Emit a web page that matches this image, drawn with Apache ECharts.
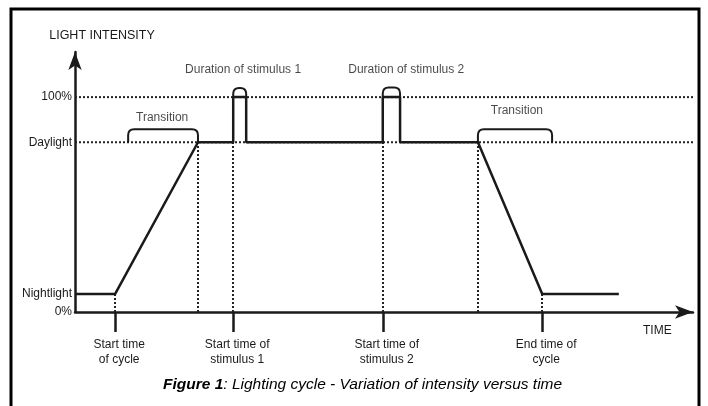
<!DOCTYPE html>
<html>
<head>
<meta charset="utf-8">
<script src="https://cdn.jsdelivr.net/npm/echarts@6/dist/echarts.min.js"></script>
<style>
  html, body { margin: 0; padding: 0; background: #fff; }
  #chartLine { width: 708px; height: 406px; }
</style>
</head>
<body>
<div id="chartLine"></div>
<script>
// light level over the cycle (x = time, arbitrary units, y = % intensity)
var cycleTime = [0, 6.5, 19.9, 25.6, 25.6, 27.7, 27.7, 49.8, 49.8, 52.6, 52.6, 65.2, 75.6, 88.0];
var cycleLevel = [8.4, 8.4, 79, 79, 100, 100, 79, 79, 100, 100, 79, 79, 8.4, 8.4];

// levels on the y axis
var levelValues = [0, 8.4, 79, 100];
var levelNames = ['0%', 'Nightlight', 'Daylight', '100%'];

// marked times on the x axis
var eventTimes = [6.5, 25.6, 49.8, 75.6];
var eventNames = ['Start time\nof cycle', 'Start time of\nstimulus 1', 'Start time of\nstimulus 2', 'End time of\ncycle'];

// dotted drop lines
var dropTimes = [6.5, 19.9, 25.6, 49.8, 65.2, 75.6];
var dropTops = [8.4, 79, 79, 79, 79, 8.4];
// dotted level guides
var guideLevels = [100, 79];
var guideEnd = 100.6;

// brackets: start, end, base level, top level
var bracketStart = [8.6, 25.6, 49.8, 65.2];
var bracketEnd = [19.9, 27.7, 52.6, 77.2];
var bracketBase = [79, 100, 100, 79];
var bracketTop = [85, 104.2, 104.5, 85];

// annotation texts
var noteNames = ['Transition', 'Duration of stimulus 1', 'Duration of stimulus 2', 'Transition'];
var noteTime = [14.1, 27.2, 53.6, 71.5];
var noteLevel = [90.3, 112.6, 112.6, 93.5];

var font = 'Liberation Sans, Arial, sans-serif';
var ink = '#1a1a1a';

var worldMapContainer = document.getElementById('chartLine');
var myChart = echarts.init(worldMapContainer);

var linePoints = cycleTime.map(function (t, i) { return [t, cycleLevel[i]]; });

var dropData = dropTimes.map(function (t, i) {
    return [{ coord: [t, 0] }, { coord: [t, dropTops[i]] }];
});

var bracketData = bracketStart.map(function (s, i) {
    return [s, bracketEnd[i], bracketBase[i], bracketTop[i]];
});

var noteData = noteNames.map(function (n, i) {
    return { name: n, value: [noteTime[i], noteLevel[i]] };
});

var dotted = { color: '#222', width: 2, type: 'dotted' };

var guideSeries = guideLevels.map(function (v) {
    return {
        type: 'line',
        name: 'guide ' + v,
        data: [[0, v], [guideEnd, v]],
        symbol: 'none',
        clip: false,
        silent: true,
        z: 2,
        lineStyle: dotted
    };
});

function renderBracket(params, api) {
    var a = api.coord([api.value(0), api.value(2)]);
    var b = api.coord([api.value(1), api.value(3)]);
    var x1 = a[0], x2 = b[0], yb = a[1], yt = b[1];
    var r = Math.min(6, (x2 - x1) / 2, yb - yt);
    var d = 'M' + x1 + ' ' + yb +
        ' L' + x1 + ' ' + (yt + r) +
        ' Q' + x1 + ' ' + yt + ' ' + (x1 + r) + ' ' + yt +
        ' L' + (x2 - r) + ' ' + yt +
        ' Q' + x2 + ' ' + yt + ' ' + x2 + ' ' + (yt + r) +
        ' L' + x2 + ' ' + yb;
    return {
        type: 'path',
        shape: { pathData: d },
        style: { fill: null, stroke: ink, lineWidth: 2 }
    };
}

var option = {
    animation: false,
    backgroundColor: '#fff',
    title: {
        text: '{b|Figure 1}{n|: Lighting cycle - Variation of intensity versus time}',
        left: 163,
        top: 377,
        padding: 0,
        textStyle: {
            fontWeight: 'normal',
            rich: {
                b: { fontFamily: font, fontSize: 15.5, fontStyle: 'italic', fontWeight: 'bold', color: '#000' },
                n: { fontFamily: font, fontSize: 15.5, fontStyle: 'italic', fontWeight: 'normal', color: '#000' }
            }
        }
    },
    graphic: [{
        type: 'rect',
        shape: { x: 11, y: 9, width: 688, height: 420 },
        style: { fill: null, stroke: '#000', lineWidth: 3 },
        silent: true
    }],
    grid: {
        left: 75,
        right: 15,
        top: 52,
        bottom: 94,
        containLabel: false,
        outerBoundsMode: 'none'
    },
    xAxis: {
        type: 'value',
        min: 0,
        max: 100,
        name: 'TIME',
        nameLocation: 'end',
        nameGap: -50,
        nameMoveOverlap: false,
        nameTextStyle: { fontFamily: font, fontSize: 12, color: ink, align: 'left', verticalAlign: 'top', padding: [13, 0, 0, 0] },
        axisLine: {
            show: true,
            symbol: ['none', 'arrow'],
            symbolSize: [10, 18],
            lineStyle: { color: ink, width: 2.5 }
        },
        axisTick: {
            show: true,
            customValues: eventTimes,
            length: 20,
            lineStyle: { color: ink, width: 2.5 }
        },
        axisLabel: {
            show: true,
            customValues: eventTimes,
            margin: 25,
            fontFamily: font,
            fontSize: 12,
            lineHeight: 15,
            color: ink,
            align: 'center',
            padding: [0, 0, 0, 8],
            formatter: function (v) {
                var i = eventTimes.indexOf(v);
                return i < 0 ? '' : eventNames[i];
            }
        },
        splitLine: { show: false }
    },
    yAxis: {
        type: 'value',
        min: 0,
        max: 121,
        name: 'LIGHT INTENSITY',
        nameLocation: 'end',
        nameGap: 10,
        nameMoveOverlap: false,
        nameTextStyle: { fontFamily: font, fontSize: 12.5, color: ink, align: 'center', padding: [0, 0, 0, 54] },
        axisLine: {
            show: true,
            symbol: ['none', 'arrow'],
            symbolSize: [10, 18],
            lineStyle: { color: ink, width: 2.5 }
        },
        axisTick: { show: false },
        axisLabel: {
            show: true,
            customValues: levelValues,
            margin: 3,
            fontFamily: font,
            fontSize: 12,
            color: ink,
            formatter: function (v) {
                var i = levelValues.indexOf(v);
                return i < 0 ? '' : levelNames[i];
            }
        },
        splitLine: { show: false }
    },
    series: [{
        type: 'line',
        name: 'intensity',
        data: linePoints,
        symbol: 'none',
        clip: false,
        z: 5,
        lineStyle: { color: ink, width: 2.5 },
        markLine: {
            silent: true,
            symbol: 'none',
            label: { show: false },
            lineStyle: dotted,
            emphasis: { disabled: true },
            data: dropData
        }
    }, {
        type: 'custom',
        name: 'brackets',
        renderItem: renderBracket,
        data: bracketData,
        clip: false,
        z: 4
    }, {
        type: 'scatter',
        name: 'notes',
        data: noteData,
        symbolSize: 1,
        itemStyle: { color: 'rgba(0,0,0,0)' },
        silent: true,
        label: {
            show: true,
            position: 'inside',
            formatter: '{b}',
            fontFamily: font,
            fontSize: 12,
            color: ink
        }
    }].concat(guideSeries)
};

myChart.setOption(option);
</script>
</body>
</html>
